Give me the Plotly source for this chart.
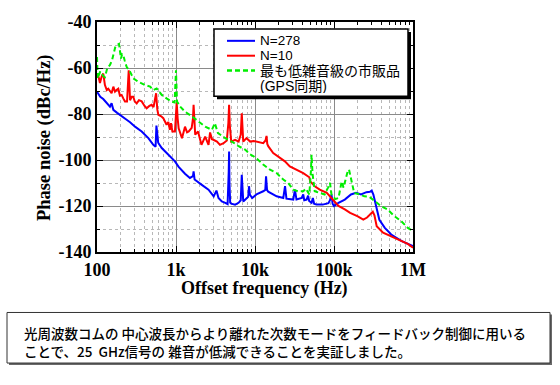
import plotly.graph_objects as go

# ---------------- data ----------------
blue_f = [100, 110, 120, 133, 146, 153, 161, 180, 205, 237, 262, 303, 368, 447, 516, 552, 565, 575, 595,
          660, 800, 970, 1080, 1300, 1500, 1640, 1670, 1720, 2100, 2580, 3000, 3250, 3450, 3800, 4200,
          4500, 4650, 4700, 4750, 4850, 5000, 5600, 6200, 6600, 6800, 6950, 7100, 7900, 8200, 8400,
          8600, 9200, 10600, 12700, 13500, 13800, 14200, 14700, 18800, 22800, 24000, 25000, 30500,
          32000, 33500, 39000, 40800, 42000, 45000, 47000, 48500, 52000, 54000, 56000, 60000, 72000,
          85000, 89000, 93000, 96000, 100000, 114000, 137000, 164000, 190000, 220000, 257000, 285000,
          300000, 315000, 340000, 375000, 440000, 530000, 710000, 1000000]
blue_db = [-70.3, -72.5, -73.5, -75.4, -76.8, -75.3, -78.2, -79.5, -81.1, -82.5, -83.6, -85.5, -87.6,
           -90.5, -93.4, -94.2, -85.0, -88.0, -92.5, -94.8, -97.7, -100.6, -103.0, -106.0, -107.8,
           -107.0, -105.0, -108.5, -110.7, -112.9, -115.8, -113.3, -116.5, -118.0, -118.6, -119.2,
           -105.0, -96.3, -110.0, -118.5, -119.0, -119.4, -118.6, -117.5, -106.4, -116.0, -118.0,
           -116.5, -116.0, -111.4, -115.0, -116.5, -114.8, -113.6, -113.0, -107.1, -113.0, -113.8,
           -115.8, -116.5, -111.4, -116.8, -117.2, -112.9, -117.2, -116.5, -115.0, -117.5, -117.2,
           -115.5, -117.8, -118.6, -116.5, -119.0, -119.4, -119.4, -118.8, -117.5, -115.0, -119.0,
           -120.0, -118.6, -117.2, -115.0, -114.3, -115.0, -114.0, -113.8, -113.3, -115.0, -120.0,
           -126.0, -129.5, -132.4, -135.2, -137.4]

red_f = [100, 105, 109, 115, 120, 126, 133, 139, 146, 153, 161, 169, 178, 186, 195, 205, 215, 226, 240,
         247, 252, 256, 262, 275, 288, 300, 318, 340, 368, 400, 425, 460, 492, 520, 560, 580, 598, 650,
         690, 730, 760, 800, 836, 865, 900, 970, 1000, 1020, 1050, 1080, 1190, 1300, 1380, 1450, 1580,
         1640, 1670, 1700, 1750, 1900, 2100, 2340, 2450, 2580, 2700, 2850, 2970, 3300, 3600, 4000, 4400,
         4600, 4700, 4800, 5000, 5600, 6200, 6600, 6800, 6950, 7100, 7800, 8700, 9600, 10600, 11600,
         12700, 13600, 14000, 14300, 14700, 17000, 20700, 23900, 27600, 33500, 40800, 48700, 50000,
         57000, 66000, 81000, 93000, 104000, 114000, 137000, 160000, 200000, 235000, 262000, 290000,
         310000, 325000, 347000, 418000, 480000, 620000, 860000, 1000000]
red_db = [-62.4, -64.0, -66.5, -63.5, -62.4, -67.4, -69.6, -69.0, -70.0, -71.0, -68.1, -70.3, -69.5,
          -69.0, -72.0, -71.7, -73.2, -74.6, -74.6, -68.0, -61.0, -66.0, -74.0, -72.5, -72.5, -74.5,
          -75.4, -74.0, -74.5, -76.5, -77.5, -76.5, -76.0, -77.0, -71.0, -78.0, -80.4, -81.0, -81.8,
          -83.5, -84.7, -83.5, -86.9, -84.0, -87.6, -87.6, -80.0, -75.0, -82.0, -86.2, -90.5, -85.5,
          -88.0, -87.6, -86.0, -82.0, -76.0, -84.0, -89.0, -87.6, -93.4, -89.8, -92.0, -93.4, -88.0,
          -91.0, -91.2, -92.0, -93.4, -92.7, -91.5, -84.0, -76.0, -85.0, -92.0, -91.2, -92.0, -89.0,
          -79.7, -88.0, -92.0, -90.5, -92.0, -91.7, -92.0, -92.5, -92.7, -91.5, -89.5, -93.0, -94.0,
          -97.0, -99.2, -100.6, -102.8, -104.2, -105.7, -107.5, -109.3, -111.4, -112.9, -114.3, -116.5,
          -118.6, -120.0, -121.5, -123.0, -124.5, -125.9, -125.0, -123.5, -122.5, -124.0, -128.8,
          -131.6, -132.5, -134.5, -136.5, -138.1]

green_f = [100, 102, 110, 120, 126, 135, 146, 155, 170, 178, 190, 201, 208, 215, 225, 237, 262, 288,
           333, 405, 470, 516, 569, 620, 660, 760, 880, 960, 985, 1000, 1015, 1030, 1130, 1300, 1590,
           1930, 2340, 2850, 3100, 3400, 4200, 5100, 6200, 7500, 8600, 9600, 10600, 12700, 15500,
           18800, 22800, 26400, 30500, 35000, 40800, 44000, 48700, 51000, 52000, 53500, 57000, 66000,
           76000, 84000, 89000, 93000, 104000, 114000, 120000, 125000, 132000, 143000, 150000, 155000,
           162000, 170000, 180000, 213000, 242000, 280000, 325000, 393000, 477000, 580000, 710000,
           860000, 1000000]
green_db = [-55.2, -64.5, -61.5, -63.5, -64.0, -60.0, -58.7, -56.6, -51.0, -50.1, -49.5, -55.9, -54.0,
            -54.4, -57.0, -59.5, -61.6, -64.5, -66.0, -67.4, -68.1, -69.6, -68.9, -70.5, -71.7, -73.2,
            -74.6, -75.0, -64.0, -61.0, -68.0, -74.6, -76.8, -79.0, -81.0, -83.3, -85.5, -86.9, -84.0,
            -88.3, -90.5, -92.0, -94.0, -95.5, -97.5, -98.4, -99.5, -102.0, -104.2, -105.7, -108.5,
            -110.0, -112.9, -113.6, -113.6, -112.5, -115.0, -105.0, -97.7, -106.0, -113.6, -114.3,
            -115.0, -112.0, -110.0, -115.0, -117.0, -116.5, -112.0, -109.3, -112.0, -106.4, -104.5,
            -104.2, -107.0, -110.7, -114.3, -115.0, -115.8, -116.0, -117.8, -120.0, -121.5, -124.4,
            -126.6, -129.5, -131.0]

x_tick_vals = [100, 1000, 10000, 100000, 1000000]
x_tick_text = ["100", "1k", "10k", "100k", "1M"]
y_tick_vals = [-140, -120, -100, -80, -60, -40]
y_tick_text = ["-140", "-120", "-100", "-80", "-60", "-40"]
y_minor_vals = [-130, -110, -90, -70, -50]

series_names = ["N=278", "N=10", "最も低雑音級の市販品", "(GPS同期)"]
caption_lines = ["光周波数コムの 中心波長からより離れた次数モードをフィードバック制御に用いる",
                 "ことで、25 \u00a0GHz信号の 雑音が低減できることを実証しました。"]

# ---------------- layout geometry (pixels) ----------------
W, H = 560, 385
L, R, T, B = 97, 413, 20, 252


def px(x):
    return (x - L) / (R - L)


def py(y):
    return (B - y) / (B - T)


x_minor_vals = [m * 10 ** e for e in range(2, 6) for m in range(2, 10)]

serif = dict(family="Liberation Serif", size=18, color="black", weight="bold")
green_dash = "5px,3px"

fig = go.Figure()
fig.add_trace(go.Scatter(x=blue_f, y=blue_db, mode="lines", line=dict(color="#0000ff", width=2),
                         showlegend=False, name=series_names[0]))
fig.add_trace(go.Scatter(x=red_f, y=red_db, mode="lines", line=dict(color="#ff0000", width=2),
                         showlegend=False, name=series_names[1]))
fig.add_trace(go.Scatter(x=green_f, y=green_db, mode="lines",
                         line=dict(color="#00ee00", width=2, dash=green_dash),
                         showlegend=False, name=series_names[2]))

fig.update_layout(
    width=W, height=H,
    margin=dict(l=L, r=W - R, t=T, b=H - B, pad=0),
    paper_bgcolor="white", plot_bgcolor="white",
    hovermode=False,
    xaxis=dict(type="log", range=[2, 6], tickmode="array", tickvals=x_tick_vals, ticktext=x_tick_text,
               showgrid=True, gridcolor="#8a8a8a", gridwidth=1,
               ticks="inside", ticklen=6, tickcolor="black", tickwidth=1,
               showline=True, linecolor="black", linewidth=2, mirror="ticks", zeroline=False,
               tickfont=serif,
               minor=dict(tickmode="array", tickvals=x_minor_vals, ticks="inside", ticklen=3,
                          tickcolor="black", showgrid=True, gridcolor="#b8b8b8", griddash="dot",
                          gridwidth=1)),
    yaxis=dict(range=[-140, -40], tickmode="array", tickvals=y_tick_vals, ticktext=y_tick_text,
               showgrid=True, gridcolor="#8a8a8a", gridwidth=1,
               ticks="inside", ticklen=6, tickcolor="black", tickwidth=1,
               showline=True, linecolor="black", linewidth=2, mirror="ticks", zeroline=False,
               tickfont=serif,
               minor=dict(tickmode="array", tickvals=y_minor_vals, ticks="inside", ticklen=3,
                          tickcolor="black", showgrid=True, gridcolor="#b8b8b8", griddash="dot",
                          gridwidth=1)),
)

shapes = []
annotations = []

# axis titles
annotations.append(dict(text="Offset frequency (Hz)", x=px(264), y=py(289), xref="paper", yref="paper",
                        showarrow=False, xanchor="center", yanchor="middle", font=serif))
annotations.append(dict(text="Phase noise (dBc/Hz)", x=px(45), y=py(137), xref="paper", yref="paper",
                        showarrow=False, xanchor="center", yanchor="middle", textangle=-90,
                        font=dict(serif, size=18.5)))

# legend box with shadow
lx0, lx1, ly0, ly1 = 214, 408, 27, 95
shapes.append(dict(type="rect", xref="paper", yref="paper", x0=px(lx0 + 3), x1=px(lx1 + 3),
                   y0=py(ly1 + 3), y1=py(ly0 + 3), fillcolor="black", line=dict(width=0), layer="above"))
shapes.append(dict(type="rect", xref="paper", yref="paper", x0=px(lx0), x1=px(lx1),
                   y0=py(ly1), y1=py(ly0), fillcolor="white", line=dict(color="black", width=1.5),
                   layer="above"))
leg_styles = [dict(color="#0000ff", width=2), dict(color="#ff0000", width=2),
              dict(color="#00ee00", width=2.5, dash=green_dash)]
row_y = [39, 54, 69, 84]
for i, st in enumerate(leg_styles):
    shapes.append(dict(type="line", xref="paper", yref="paper", x0=px(227), x1=px(255),
                       y0=py(row_y[i]), y1=py(row_y[i]), line=st, layer="above"))
for i, name in enumerate(series_names):
    fsize = 13.5 if i < 2 else 14
    annotations.append(dict(text=name, x=px(258), y=py(row_y[i]), xref="paper", yref="paper",
                            showarrow=False, xanchor="left", yanchor="middle", height=15,
                            font=dict(family="Liberation Sans, Noto Sans CJK JP, sans-serif",
                                      size=fsize, color="black")))

# caption box with shadow
bx0, bx1, by0, by1 = 7, 550, 313, 364
shapes.append(dict(type="rect", xref="paper", yref="paper", x0=px(bx0 + 2), x1=px(bx1 + 2),
                   y0=py(by1 + 2), y1=py(by0 + 2), fillcolor="#6a6a6a", line=dict(width=0), layer="above"))
shapes.append(dict(type="rect", xref="paper", yref="paper", x0=px(bx0), x1=px(bx1),
                   y0=py(by1), y1=py(by0), fillcolor="white", line=dict(color="#333333", width=1),
                   layer="above"))
for i, line in enumerate(caption_lines):
    annotations.append(dict(text=line, x=px(22), y=py(334 + 18 * i), xref="paper", yref="paper",
                            showarrow=False, xanchor="left", yanchor="middle",
                            font=dict(family="Noto Sans CJK JP, sans-serif", size=13.5, color="black",
                                      weight=500)))

fig.update_layout(shapes=shapes, annotations=annotations)
fig.write_html("out.html", config={"displayModeBar": False, "staticPlot": True},
               post_script="document.body.style.margin='0';document.body.style.padding='0';")
